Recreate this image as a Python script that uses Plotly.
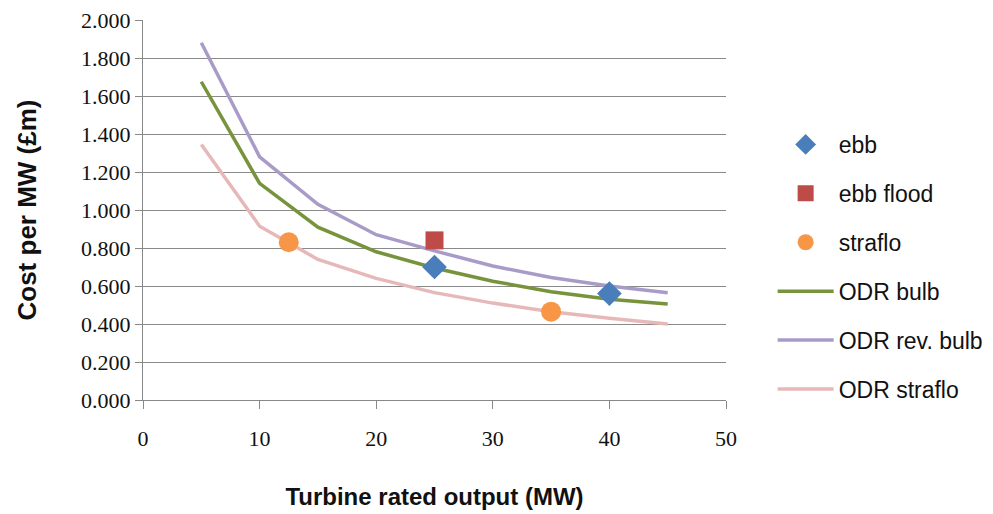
import plotly.graph_objects as go

# Data
x_lines = [5, 10, 15, 20, 25, 30, 35, 40, 45]
odr_bulb = [1.675, 1.14, 0.91, 0.78, 0.695, 0.625, 0.57, 0.53, 0.505]
odr_rev_bulb = [1.88, 1.28, 1.03, 0.87, 0.785, 0.705, 0.645, 0.60, 0.565]
odr_straflo = [1.345, 0.915, 0.74, 0.64, 0.565, 0.51, 0.465, 0.43, 0.40]

ebb_x = [25, 40]
ebb_y = [0.70, 0.56]
ebb_flood_x = [25]
ebb_flood_y = [0.84]
straflo_x = [12.5, 35]
straflo_y = [0.83, 0.465]

x_ticks = [0, 10, 20, 30, 40, 50]
y_ticks = [0.0, 0.2, 0.4, 0.6, 0.8, 1.0, 1.2, 1.4, 1.6, 1.8, 2.0]

fig = go.Figure()

fig.add_trace(go.Scatter(x=x_lines, y=odr_bulb, mode="lines", name="ODR bulb", legendgroup="d", legendrank=4,
                         line=dict(color="#77933C", width=3.5)))
fig.add_trace(go.Scatter(x=x_lines, y=odr_rev_bulb, mode="lines", name="ODR rev. bulb", legendgroup="e", legendrank=5,
                         line=dict(color="#A99BC8", width=3.5)))
fig.add_trace(go.Scatter(x=x_lines, y=odr_straflo, mode="lines", name="ODR straflo", legendgroup="f", legendrank=6,
                         line=dict(color="#E6B9B8", width=3.5)))
fig.add_trace(go.Scatter(x=ebb_x, y=ebb_y, mode="markers", name="ebb", legendgroup="a", legendrank=1,
                         marker=dict(symbol="diamond", size=19, color="#4A7EBB")))
fig.add_trace(go.Scatter(x=ebb_flood_x, y=ebb_flood_y, mode="markers", name="ebb flood", legendgroup="b", legendrank=2,
                         marker=dict(symbol="square", size=18, color="#BE4B48")))
fig.add_trace(go.Scatter(x=straflo_x, y=straflo_y, mode="markers", name="straflo", legendgroup="c", legendrank=3,
                         marker=dict(symbol="circle", size=20, color="#F79646")))

fig.update_layout(
    width=993, height=514,
    margin=dict(l=143, r=267, t=20, b=114, autoexpand=False),
    paper_bgcolor="white", plot_bgcolor="white",
    showlegend=True,
    legend=dict(x=1.08, y=0.35, xanchor="left", yanchor="middle",
                font=dict(family="Liberation Sans", size=23, color="#111"),
                tracegroupgap=16, traceorder="grouped", itemwidth=56),
    font=dict(family="Liberation Serif", size=22, color="#111"),
)

fig.update_xaxes(range=[0, 50], tickvals=x_ticks, ticktext=[str(v) for v in x_ticks],
                 showgrid=False, showline=True, linecolor="#888", linewidth=1.2,
                 ticks="outside", ticklen=8, tickcolor="#888", ticklabelstandoff=10,
                 tickfont=dict(family="Liberation Serif", size=22, color="#111"),
                 title=dict(text="<b>Turbine rated output (MW)</b>",
                            font=dict(family="Liberation Sans", size=24, color="#111"),
                            standoff=38),
                 zeroline=False)
fig.update_yaxes(range=[0, 2.0], tickvals=y_ticks, ticktext=[f"{v:.3f}" for v in y_ticks],
                 showgrid=True, gridcolor="#8a8a8a", gridwidth=1.2,
                 showline=True, linecolor="#888", linewidth=1.2,
                 ticks="outside", ticklen=7, tickcolor="#888",
                 tickfont=dict(family="Liberation Serif", size=22, color="#111"),
                 title=dict(text="<b>Cost per MW (£m)</b>",
                            font=dict(family="Liberation Sans", size=26, color="#111"),
                            standoff=36),
                 zeroline=False)

fig.write_html("out.html")
